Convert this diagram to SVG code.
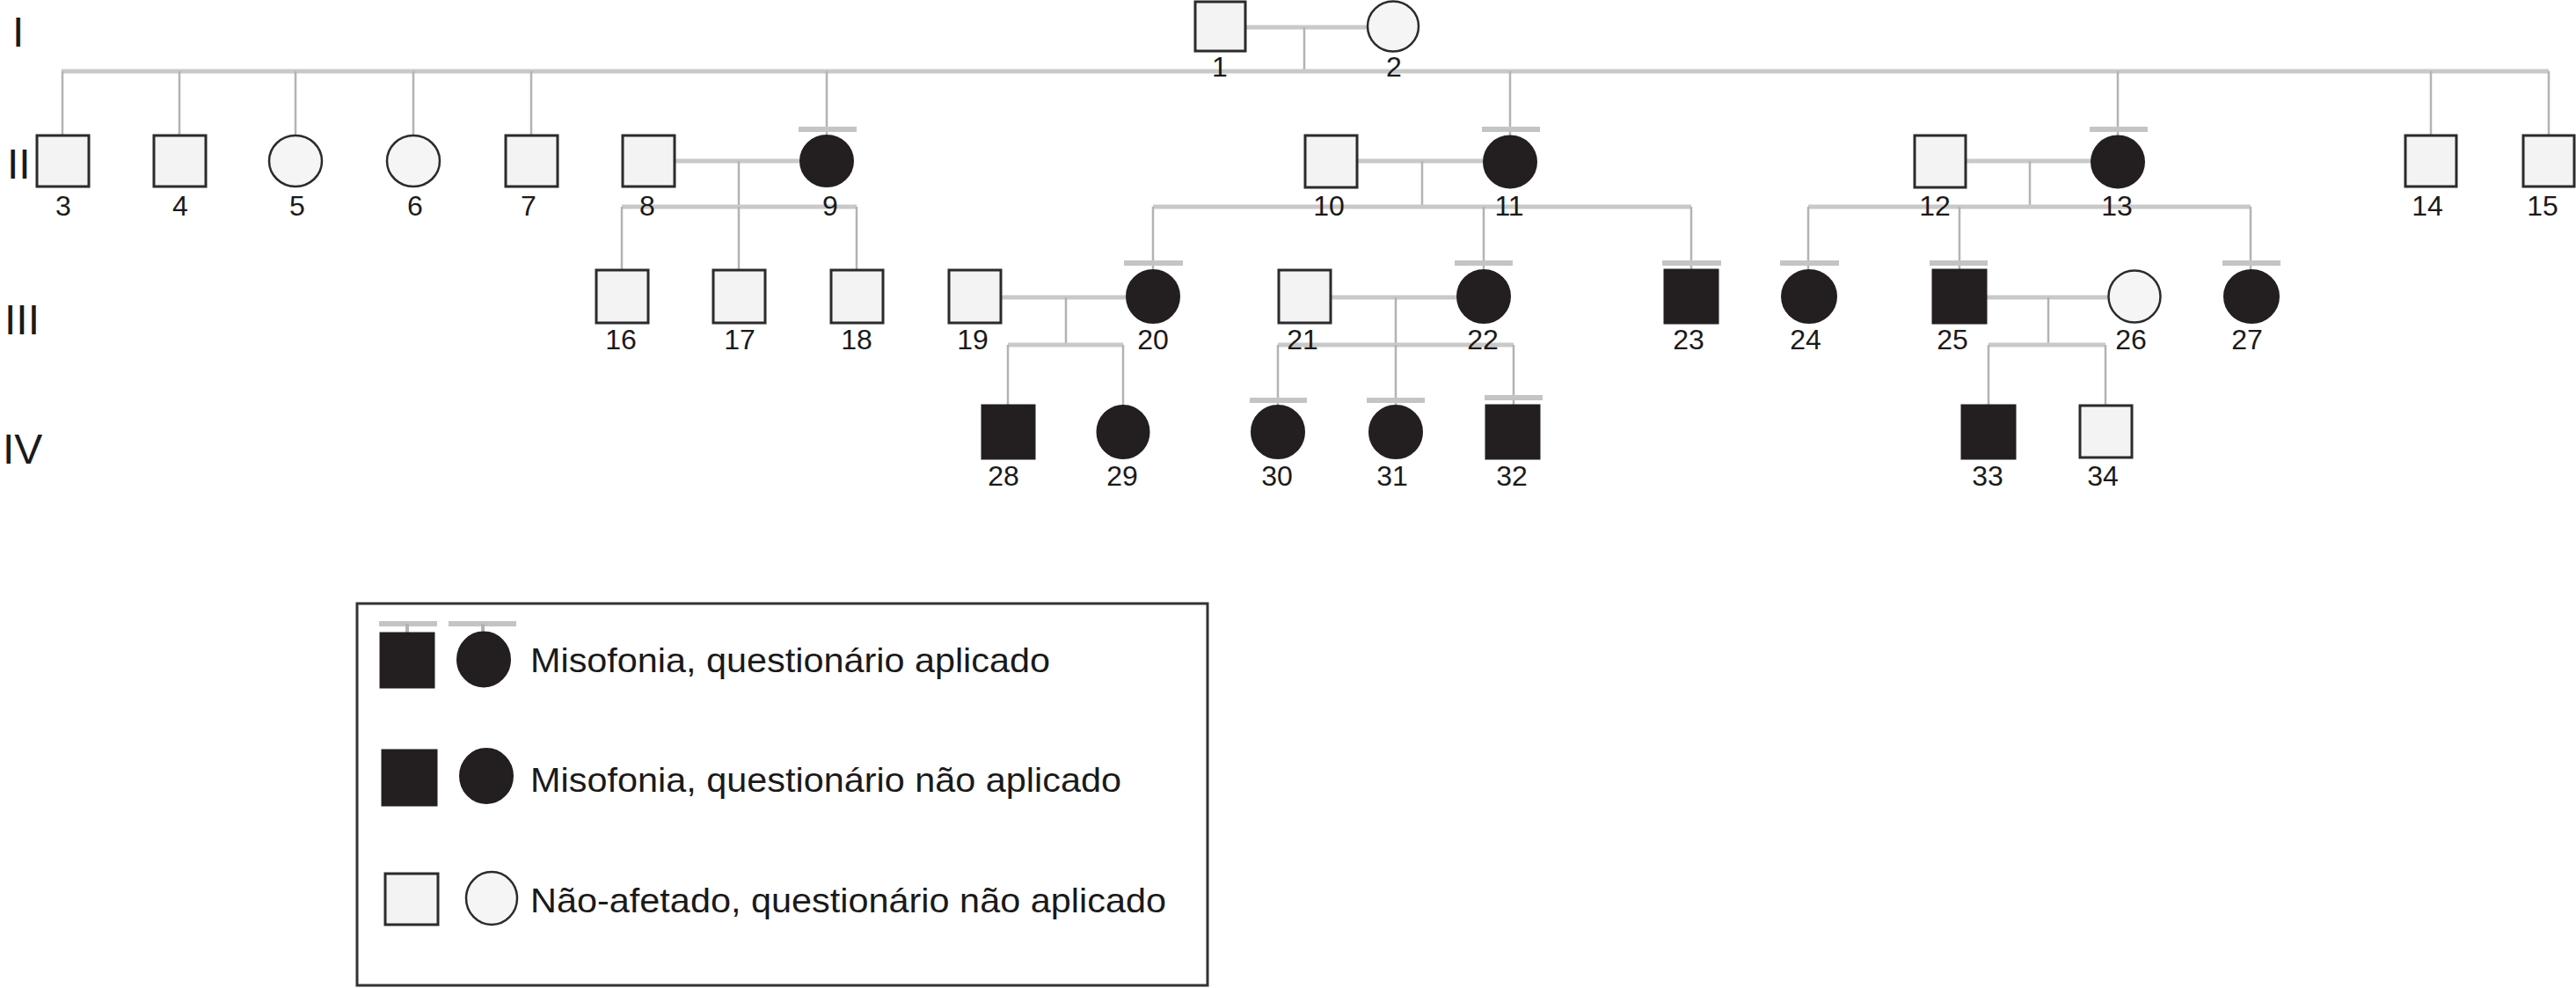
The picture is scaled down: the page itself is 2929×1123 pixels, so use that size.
<svg xmlns="http://www.w3.org/2000/svg" width="2929" height="1123" viewBox="0 0 2929 1123">
<style>
.bg{fill:#ffffff}
.sq{fill:#f3f3f3;stroke:#2b2b2b;stroke-width:3}
.sqa{fill:#231f20;stroke:#231f20;stroke-width:3}
.ci{fill:#f5f5f5;stroke:#2b2b2b;stroke-width:2.5}
.cia{fill:#231f20;stroke:#231f20;stroke-width:2}
.h{stroke:#c9c9c9;stroke-width:5;fill:none}
.v{stroke:#b3b3b3;stroke-width:2.5;fill:none}
.bar{stroke:#c4c4c4;stroke-width:6;fill:none}
.lbl{font-family:"Liberation Sans",Arial,sans-serif;font-size:32px;fill:#1a1a1a;text-anchor:middle}
.gen{font-family:"Liberation Sans",Arial,sans-serif;font-size:48px;fill:#1a1a1a}
.leg{font-family:"Liberation Sans",Arial,sans-serif;font-size:39px;fill:#1a1a1a}
</style>
<rect class="bg" x="0" y="0" width="2929" height="1123"/>
<g id="generations">
<text class="gen" x="14" y="53">I</text>
<text class="gen" x="8" y="203">II</text>
<text class="gen" x="5" y="380">III</text>
<text class="gen" x="3" y="527">IV</text>
</g>
<g id="connectors">
<line class="h" x1="1415" y1="31" x2="1555" y2="31"/>
<line class="v" x1="1483" y1="31" x2="1483" y2="81"/>
<line class="h" x1="70" y1="81" x2="2898" y2="81"/>
<line class="v" x1="71" y1="81" x2="71" y2="154"/>
<line class="v" x1="204" y1="81" x2="204" y2="154"/>
<line class="v" x1="336" y1="81" x2="336" y2="154"/>
<line class="v" x1="470" y1="81" x2="470" y2="154"/>
<line class="v" x1="604" y1="81" x2="604" y2="154"/>
<line class="v" x1="940" y1="81" x2="940" y2="154"/>
<line class="v" x1="1717" y1="81" x2="1717" y2="154"/>
<line class="v" x1="2408" y1="81" x2="2408" y2="154"/>
<line class="v" x1="2764" y1="81" x2="2764" y2="154"/>
<line class="v" x1="2898" y1="81" x2="2898" y2="154"/>
<line class="h" x1="767" y1="183" x2="910" y2="183"/>
<line class="v" x1="840" y1="183" x2="840" y2="235"/>
<line class="h" x1="707" y1="235" x2="974" y2="235"/>
<line class="v" x1="707" y1="235" x2="707" y2="307"/>
<line class="v" x1="840" y1="235" x2="840" y2="307"/>
<line class="v" x1="974" y1="235" x2="974" y2="307"/>
<line class="h" x1="1544" y1="183" x2="1687" y2="183"/>
<line class="v" x1="1617" y1="183" x2="1617" y2="235"/>
<line class="h" x1="1311" y1="235" x2="1923" y2="235"/>
<line class="v" x1="1311" y1="235" x2="1311" y2="307"/>
<line class="v" x1="1687" y1="235" x2="1687" y2="307"/>
<line class="v" x1="1923" y1="235" x2="1923" y2="307"/>
<line class="h" x1="2235" y1="183" x2="2379" y2="183"/>
<line class="v" x1="2308" y1="183" x2="2308" y2="235"/>
<line class="h" x1="2056" y1="235" x2="2559" y2="235"/>
<line class="v" x1="2056" y1="235" x2="2056" y2="307"/>
<line class="v" x1="2228" y1="235" x2="2228" y2="307"/>
<line class="v" x1="2559" y1="235" x2="2559" y2="307"/>
<line class="h" x1="1138" y1="338" x2="1281" y2="338"/>
<line class="v" x1="1212" y1="338" x2="1212" y2="392"/>
<line class="h" x1="1146" y1="392" x2="1277" y2="392"/>
<line class="v" x1="1146" y1="392" x2="1146" y2="461"/>
<line class="v" x1="1277" y1="392" x2="1277" y2="461"/>
<line class="h" x1="1513" y1="338" x2="1657" y2="338"/>
<line class="v" x1="1587" y1="338" x2="1587" y2="392"/>
<line class="h" x1="1453" y1="392" x2="1721" y2="392"/>
<line class="v" x1="1453" y1="392" x2="1453" y2="461"/>
<line class="v" x1="1587" y1="392" x2="1587" y2="461"/>
<line class="v" x1="1721" y1="392" x2="1721" y2="461"/>
<line class="h" x1="2258" y1="338" x2="2397" y2="338"/>
<line class="v" x1="2329" y1="338" x2="2329" y2="392"/>
<line class="h" x1="2261" y1="392" x2="2394" y2="392"/>
<line class="v" x1="2261" y1="392" x2="2261" y2="461"/>
<line class="v" x1="2394" y1="392" x2="2394" y2="461"/>
<line class="bar" x1="908" y1="147" x2="974" y2="147"/>
<line class="bar" x1="1685" y1="147" x2="1751" y2="147"/>
<line class="bar" x1="2376" y1="147" x2="2442" y2="147"/>
<line class="bar" x1="1278" y1="299" x2="1345" y2="299"/>
<line class="bar" x1="1654" y1="299" x2="1720" y2="299"/>
<line class="bar" x1="1890" y1="299" x2="1957" y2="299"/>
<line class="bar" x1="2024" y1="299" x2="2091" y2="299"/>
<line class="bar" x1="2194" y1="299" x2="2260" y2="299"/>
<line class="bar" x1="2527" y1="299" x2="2593" y2="299"/>
<line class="bar" x1="1421" y1="455" x2="1486" y2="455"/>
<line class="bar" x1="1554" y1="455" x2="1620" y2="455"/>
<line class="bar" x1="1688" y1="452" x2="1754" y2="452"/>
</g>
<g id="n1"><rect class="sq" x="1359" y="2" width="57" height="56"/><text class="lbl" x="1387" y="87">1</text></g>
<g id="n2"><ellipse class="ci" cx="1584" cy="30" rx="29" ry="28.5"/><text class="lbl" x="1585" y="87">2</text></g>
<g id="n3"><rect class="sq" x="42" y="154" width="59" height="58"/><text class="lbl" x="72" y="245">3</text></g>
<g id="n4"><rect class="sq" x="175" y="154" width="59" height="58"/><text class="lbl" x="205" y="245">4</text></g>
<g id="n5"><ellipse class="ci" cx="336" cy="183" rx="30" ry="29"/><text class="lbl" x="338" y="245">5</text></g>
<g id="n6"><ellipse class="ci" cx="470" cy="183" rx="30" ry="29"/><text class="lbl" x="472" y="245">6</text></g>
<g id="n7"><rect class="sq" x="575" y="154" width="59" height="58"/><text class="lbl" x="601" y="245">7</text></g>
<g id="n8"><rect class="sq" x="708" y="154" width="59" height="58"/><text class="lbl" x="736" y="245">8</text></g>
<g id="n9"><ellipse class="cia" cx="940" cy="183" rx="30" ry="29"/><text class="lbl" x="944" y="245">9</text></g>
<g id="n10"><rect class="sq" x="1484" y="154" width="59" height="59"/><text class="lbl" x="1511" y="245">10</text></g>
<g id="n11"><ellipse class="cia" cx="1717" cy="184" rx="30" ry="29.5"/><text class="lbl" x="1716" y="245">11</text></g>
<g id="n12"><rect class="sq" x="2177" y="154" width="58" height="59"/><text class="lbl" x="2200" y="245">12</text></g>
<g id="n13"><ellipse class="cia" cx="2408" cy="184" rx="30" ry="29.5"/><text class="lbl" x="2407" y="245">13</text></g>
<g id="n14"><rect class="sq" x="2735" y="154" width="58" height="58"/><text class="lbl" x="2760" y="245">14</text></g>
<g id="n15"><rect class="sq" x="2869" y="154" width="58" height="58"/><text class="lbl" x="2891" y="245">15</text></g>
<g id="n16"><rect class="sq" x="678" y="307" width="59" height="60"/><text class="lbl" x="706" y="397">16</text></g>
<g id="n17"><rect class="sq" x="811" y="307" width="59" height="60"/><text class="lbl" x="841" y="397">17</text></g>
<g id="n18"><rect class="sq" x="945" y="307" width="59" height="60"/><text class="lbl" x="974" y="397">18</text></g>
<g id="n19"><rect class="sq" x="1079" y="307" width="59" height="60"/><text class="lbl" x="1106" y="397">19</text></g>
<g id="n20"><ellipse class="cia" cx="1311" cy="337" rx="30" ry="30"/><text class="lbl" x="1311" y="397">20</text></g>
<g id="n21"><rect class="sq" x="1454" y="307" width="59" height="60"/><text class="lbl" x="1481" y="397">21</text></g>
<g id="n22"><ellipse class="cia" cx="1687" cy="337" rx="30" ry="30"/><text class="lbl" x="1686" y="397">22</text></g>
<g id="n23"><rect class="sqa" x="1893" y="307" width="60" height="60"/><text class="lbl" x="1920" y="397">23</text></g>
<g id="n24"><ellipse class="cia" cx="2057" cy="337" rx="31" ry="30"/><text class="lbl" x="2053" y="397">24</text></g>
<g id="n25"><rect class="sqa" x="2198" y="307" width="60" height="60"/><text class="lbl" x="2220" y="397">25</text></g>
<g id="n26"><ellipse class="ci" cx="2427" cy="337" rx="29.5" ry="29.5"/><text class="lbl" x="2423" y="397">26</text></g>
<g id="n27"><ellipse class="cia" cx="2560" cy="337" rx="31" ry="30"/><text class="lbl" x="2555" y="397">27</text></g>
<g id="n28"><rect class="sqa" x="1117" y="461" width="59" height="60"/><text class="lbl" x="1141" y="552">28</text></g>
<g id="n29"><ellipse class="cia" cx="1277" cy="491" rx="29.5" ry="30"/><text class="lbl" x="1276" y="552">29</text></g>
<g id="n30"><ellipse class="cia" cx="1453" cy="491" rx="30" ry="30"/><text class="lbl" x="1452" y="552">30</text></g>
<g id="n31"><ellipse class="cia" cx="1587" cy="491" rx="30" ry="30"/><text class="lbl" x="1583" y="552">31</text></g>
<g id="n32"><rect class="sqa" x="1690" y="461" width="60" height="60"/><text class="lbl" x="1719" y="552">32</text></g>
<g id="n33"><rect class="sqa" x="2231" y="461" width="60" height="60"/><text class="lbl" x="2260" y="552">33</text></g>
<g id="n34"><rect class="sq" x="2365" y="461" width="59" height="59"/><text class="lbl" x="2391" y="552">34</text></g>
<g id="legend">
<rect x="406" y="686" width="967" height="434" fill="none" stroke="#333333" stroke-width="3"/>
<line class="bar" x1="431" y1="709" x2="497" y2="709"/>
<line class="v" x1="463" y1="709" x2="463" y2="719" style="stroke-width:4"/>
<line class="bar" x1="510" y1="709" x2="587" y2="709"/>
<line class="v" x1="549" y1="709" x2="549" y2="719" style="stroke-width:4"/>
<rect class="sqa" x="433" y="720" width="60" height="61"/>
<ellipse class="cia" cx="550" cy="749.5" rx="30" ry="31"/>
<text class="leg" x="603" y="764" textLength="591" lengthAdjust="spacingAndGlyphs">Misofonia, questionário aplicado</text>
<rect class="sqa" x="435" y="853" width="61" height="62"/>
<ellipse class="cia" cx="553" cy="882" rx="30" ry="31"/>
<text class="leg" x="603" y="900" textLength="672" lengthAdjust="spacingAndGlyphs">Misofonia, questionário não aplicado</text>
<rect class="sq" x="438" y="993" width="60" height="58"/>
<ellipse class="ci" cx="559" cy="1021" rx="29" ry="30"/>
<text class="leg" x="603" y="1037" textLength="723" lengthAdjust="spacingAndGlyphs">Não-afetado, questionário não aplicado</text>
</g>
</svg>
